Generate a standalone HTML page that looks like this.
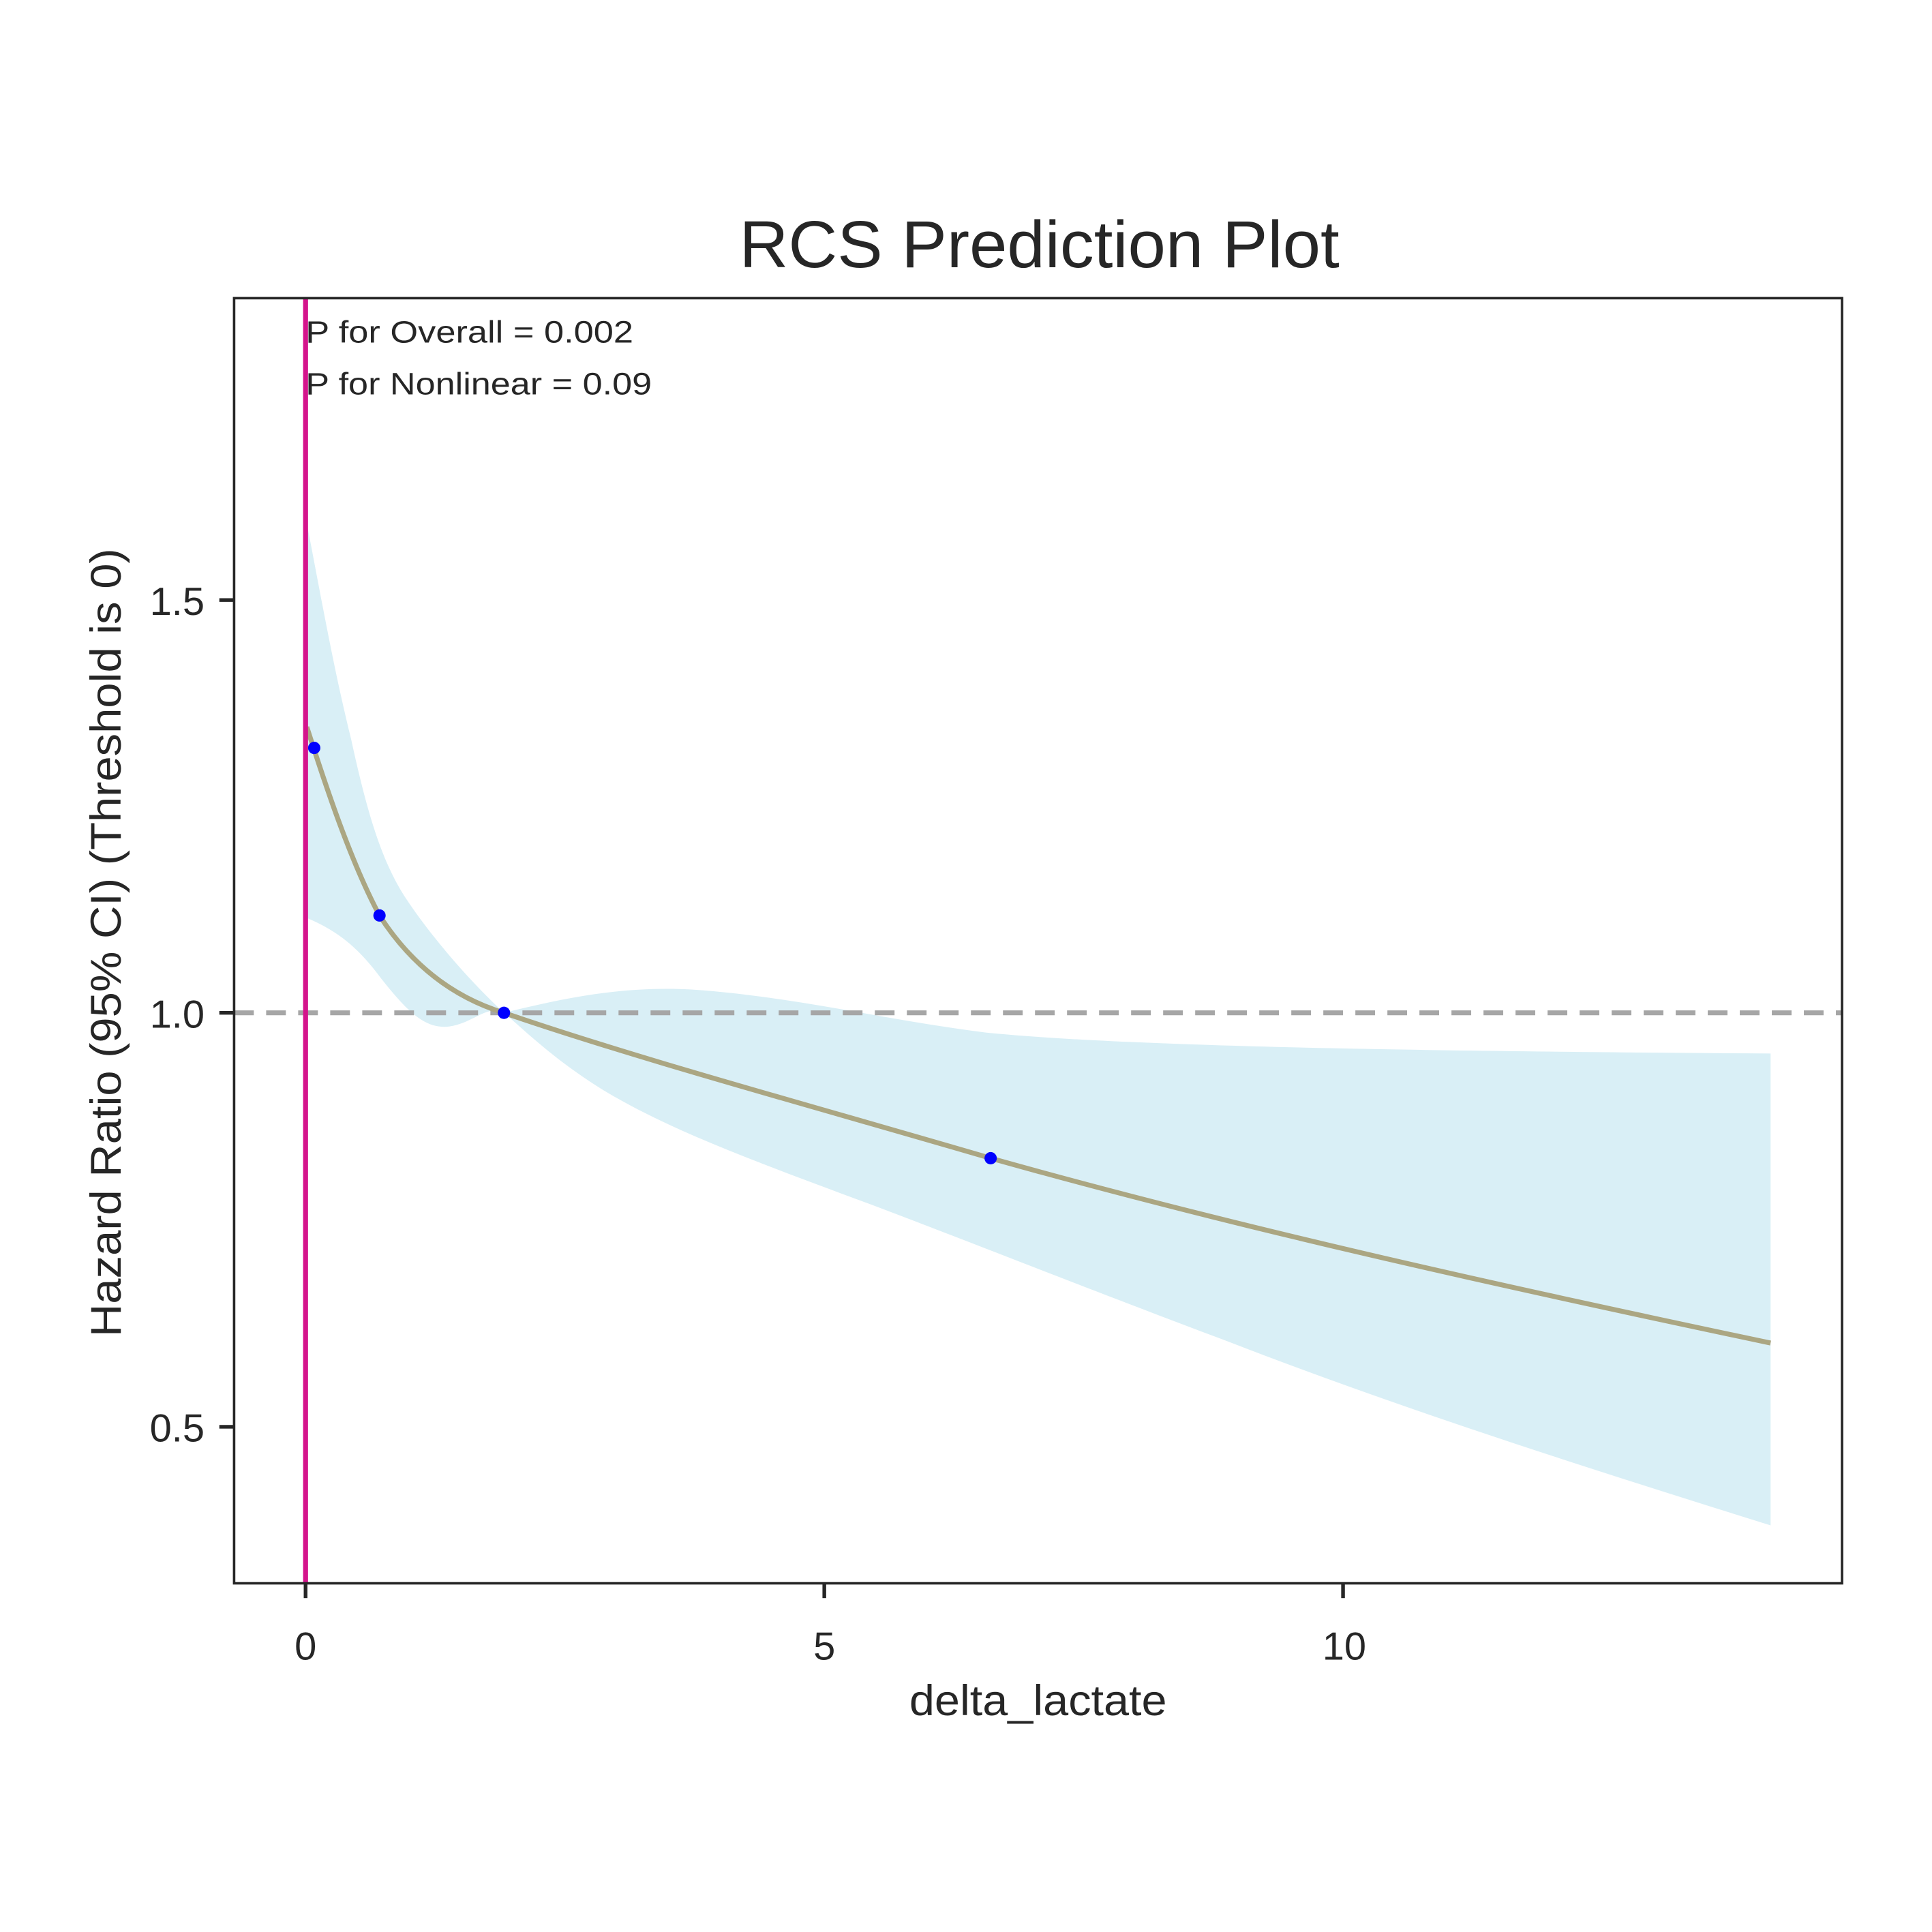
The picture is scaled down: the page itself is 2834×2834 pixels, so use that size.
<!DOCTYPE html>
<html><head><meta charset="utf-8"><style>
html,body{margin:0;padding:0;background:#fff;}
svg{display:block;}
text{font-family:"Liberation Sans",Arial,sans-serif;fill:#262626;}
</style></head><body>
<svg width="2834" height="2834" viewBox="0 0 1568 1568" xmlns="http://www.w3.org/2000/svg">
<rect width="1568" height="1568" fill="#fff"/>
<text x="600" y="217" font-size="54" textLength="487" lengthAdjust="spacingAndGlyphs">RCS Prediction Plot</text>
<path d="M249,425 C258,470 270,540 285,600 C298,660 310,700 330,730 C350,760 380,795 409,822 C450,812 500,800 560,803 C640,808 720,828 800,838 C900,848 1100,853 1437,855 L1437,1238 C1300,1195 1150,1148 1000,1090 C880,1045 780,1005 700,975 C600,938 540,915 490,885 C450,860 430,840 409,822 C395,815 385,830 365,833 C345,836 330,820 310,795 C295,775 280,758 249,745 Z" fill="#d9eff6"/>
<line x1="190" y1="822" x2="1495" y2="822" stroke="#a6a6a6" stroke-width="4" stroke-dasharray="16,10"/>
<path d="M249,590 C265,640 285,700 308,743 C335,785 370,810 409,822 C520,860 650,895 804,940 C1000,995 1200,1040 1437,1090" fill="none" stroke="#aba682" stroke-width="4"/>
<g fill="#0000ff">
<circle cx="255" cy="607" r="5"/><circle cx="308" cy="743" r="5"/>
<circle cx="409" cy="822" r="5"/><circle cx="804" cy="940" r="5"/>
</g>
<line x1="248" y1="242" x2="248" y2="1285" stroke="#d4148c" stroke-width="4"/>
<rect x="190" y="242" width="1305" height="1043" fill="none" stroke="#262626" stroke-width="2"/>
<g stroke="#262626" stroke-width="3">
<line x1="178" y1="487" x2="190" y2="487"/><line x1="178" y1="822" x2="190" y2="822"/><line x1="178" y1="1158" x2="190" y2="1158"/>
<line x1="248" y1="1285" x2="248" y2="1297"/><line x1="669" y1="1285" x2="669" y2="1297"/><line x1="1090" y1="1285" x2="1090" y2="1297"/>
</g>
<g font-size="32" text-anchor="end">
<text x="166" y="499">1.5</text><text x="166" y="834">1.0</text><text x="166" y="1170">0.5</text>
</g>
<g font-size="32" text-anchor="middle">
<text x="248" y="1347">0</text><text x="669" y="1347">5</text><text x="1091" y="1347">10</text>
</g>
<text x="738" y="1392" font-size="35" textLength="209" lengthAdjust="spacingAndGlyphs">delta_lactate</text>
<text transform="translate(98,1085) rotate(-90)" font-size="35" textLength="640" lengthAdjust="spacingAndGlyphs">Hazard Ratio (95% CI) (Threshold is 0)</text>
<text x="248" y="278" font-size="25" fill="#000" textLength="266" lengthAdjust="spacingAndGlyphs">P for Overall = 0.002</text>
<text x="248" y="320" font-size="25" fill="#000" textLength="281" lengthAdjust="spacingAndGlyphs">P for Nonlinear = 0.09</text>
</svg>
</body></html>
